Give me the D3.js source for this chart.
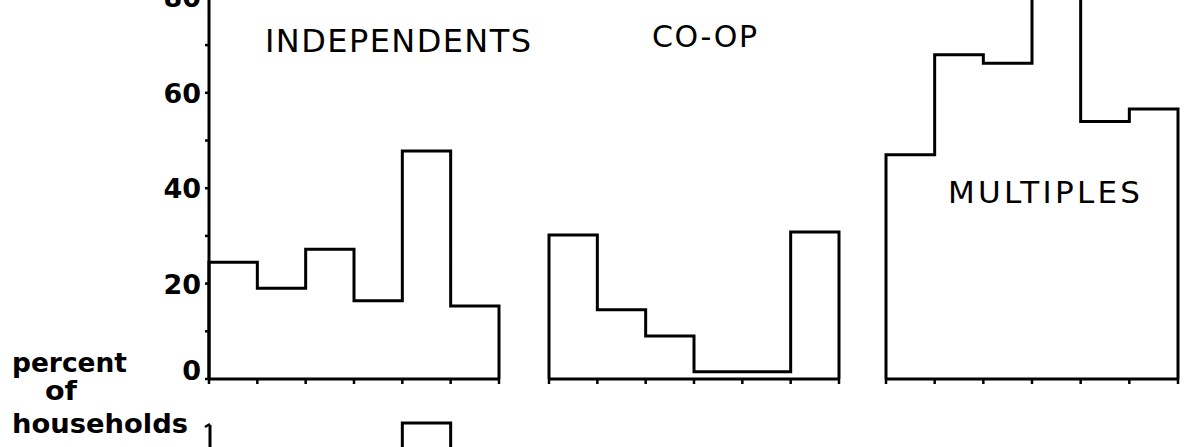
<!DOCTYPE html>
<html><head><meta charset="utf-8">
<script src="https://cdn.jsdelivr.net/npm/d3@7"></script>
<style>html,body{margin:0;padding:0;background:#fff;}svg{display:block;}</style>
</head><body>
<svg id="chart" width="1184" height="447"></svg>
<script>
// ---- data ----
const panels = ["INDEPENDENTS", "CO-OP", "MULTIPLES"];
const independents = [24.5, 19, 27.2, 16.4, 47.8, 15.3];
const coop = [30.2, 14.5, 9.0, 1.5, 1.5, 30.8];
const multiples = [47, 68, 66.2, 85, 54, 56.6];
const yTicks = [0, 10, 20, 30, 40, 50, 60, 70, 80];
const yTickLabels = ["0", "20", "40", "60", "80"];
const yTitle = ["percent", "of", "households"];
// lower (cropped) panel: only one bin is visible
const lowerIndependents = [null, null, null, null, 1, null];

const svg = d3.select("#chart");
const y = d3.scaleLinear().domain([0, 80]).range([379, -2.6]);
const bins = d3.range(0, 7);

const layout = [
  {name: panels[0], vals: independents, x0: 209, x1: 499, lx: 265, ly: 52, lw: 266, fs: 32},
  {name: panels[1], vals: coop, x0: 549, x1: 839, lx: 652, ly: 47, lw: 105, fs: 30},
  {name: panels[2], vals: multiples, x0: 886, x1: 1178, lx: 948, ly: 203, lw: 192, fs: 31}
];

const line = d3.line().x(d => d[0]).y(d => d[1]);

layout.forEach(p => {
  const x = d3.scaleLinear().domain([0, 6]).range([p.x0, p.x1]);
  const g = svg.append("g");
  g.append("line").attr("x1", x(0)).attr("x2", x(6)).attr("y1", y(0)).attr("y2", y(0))
    .attr("stroke", "#000").attr("stroke-width", 3);
  g.selectAll("line.xt").data(bins).join("line")
    .attr("x1", d => x(d)).attr("x2", d => x(d))
    .attr("y1", y(0)).attr("y2", y(0) + 5)
    .attr("stroke", "#000").attr("stroke-width", 2.5);
  const pts = [[x(0), y(0)]];
  p.vals.forEach((v, i) => { pts.push([x(i), y(v)]); pts.push([x(i + 1), y(v)]); });
  pts.push([x(6), y(0)]);
  g.append("path").attr("d", line(pts)).attr("fill", "none")
    .attr("stroke", "#000").attr("stroke-width", 3).attr("stroke-linejoin", "miter");
  g.append("text").attr("x", p.lx).attr("y", p.ly).text(p.name)
    .attr("font-family", "DejaVu Sans, sans-serif").attr("font-size", p.fs)
    .attr("textLength", p.lw).attr("lengthAdjust", "spacing")
    .attr("fill", "#000");
});

// y axis
const ax = 209;
svg.append("line").attr("x1", ax).attr("x2", ax).attr("y1", y(0)).attr("y2", y(82))
  .attr("stroke", "#000").attr("stroke-width", 3);
svg.selectAll("line.yt").data(yTicks).join("line")
  .attr("x1", ax - 4).attr("x2", ax).attr("y1", d => y(d)).attr("y2", d => y(d))
  .attr("stroke", "#000").attr("stroke-width", 2.5);
svg.selectAll("text.yl").data(yTickLabels).join("text")
  .attr("x", 201).attr("y", d => y(+d) + 10 - (+d === 0 ? 9 : 0))
  .attr("text-anchor", "end")
  .attr("font-family", "DejaVu Sans, sans-serif").attr("font-weight", "bold")
  .attr("font-size", 27).text(d => d);

// y title
const titlePos = [{x: 12, y: 372, w: 115}, {x: 45, y: 400, w: 32}, {x: 12, y: 433, w: 176}];
yTitle.forEach((t, i) => {
  svg.append("text").attr("x", titlePos[i].x).attr("y", titlePos[i].y).text(t)
    .attr("font-family", "DejaVu Sans, sans-serif").attr("font-weight", "bold")
    .attr("font-size", 27).attr("textLength", titlePos[i].w)
    .attr("lengthAdjust", "spacingAndGlyphs");
});

// lower (cropped) panel
const yLow = d3.scaleLinear().domain([0, 1]).range([640, 423]);
const xLow = d3.scaleLinear().domain([0, 6]).range([209, 499]);
svg.append("line").attr("x1", ax + 1).attr("x2", ax + 1).attr("y1", yLow(1) + 2).attr("y2", 460)
  .attr("stroke", "#000").attr("stroke-width", 3);
svg.append("line").attr("x1", ax - 4).attr("x2", ax + 1).attr("y1", yLow(1) + 4).attr("y2", yLow(1) + 1)
  .attr("stroke", "#000").attr("stroke-width", 2.5);
lowerIndependents.forEach((v, i) => {
  if (v == null) return;
  const pts = [[xLow(i), yLow(0)], [xLow(i), yLow(v)], [xLow(i + 1), yLow(v)], [xLow(i + 1), yLow(0)]];
  svg.append("path").attr("d", line(pts)).attr("fill", "none")
    .attr("stroke", "#000").attr("stroke-width", 3);
});
</script>
</body></html>
